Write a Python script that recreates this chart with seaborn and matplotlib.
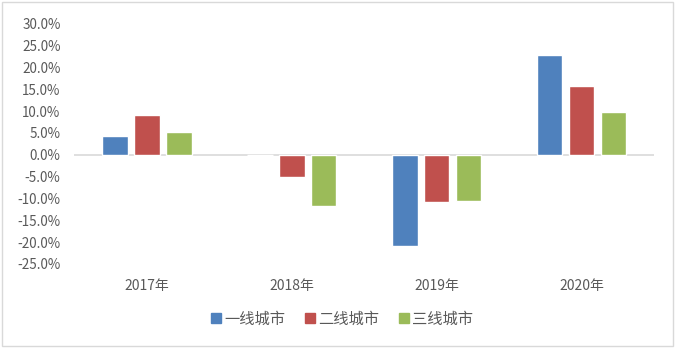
import matplotlib
matplotlib.use("Agg")
import matplotlib.pyplot as plt
import matplotlib.patches as mpatches
import seaborn as sns
import pandas as pd

sns.set_style("white")
plt.rcParams["font.family"] = ["Noto Sans CJK SC", "DejaVu Sans"]

years = ["2017年", "2018年", "2019年", "2020年"]
tiers = ["一线城市", "二线城市", "三线城市"]
tier1 = [4.2, 0.0, -20.8, 22.8]
tier2 = [9.0, -5.0, -10.9, 15.7]
tier3 = [5.1, -11.8, -10.5, 9.9]
colors = ["#4F81BD", "#C0504D", "#9BBB59"]

df = pd.DataFrame({
    "year": years * 3,
    "tier": [tiers[0]] * 4 + [tiers[1]] * 4 + [tiers[2]] * 4,
    "value": tier1 + tier2 + tier3,
})

fig = plt.figure(figsize=(6.77, 3.5), dpi=100)
ax = fig.add_axes([0.110, 0.246, 0.856, 0.686])

sns.barplot(data=df, x="year", y="value", hue="tier", palette=colors,
            saturation=1, errorbar=None, width=0.66, gap=0.2, ax=ax)

ax.set_ylim(-25, 30)
ax.set_yticks(range(-25, 31, 5))
ax.set_yticklabels([f"{v:.1f}%" for v in range(-25, 31, 5)])
ax.axhline(0, color="#D9D9D9", lw=1.2, zorder=0)
for s in ax.spines.values():
    s.set_visible(False)
ax.tick_params(axis="y", length=0, pad=10, labelsize=9.7, labelcolor="#595959")
ax.tick_params(axis="x", length=0, pad=11, labelsize=10, labelcolor="#595959")
ax.set_xlabel("")
ax.set_ylabel("")

ax.legend_.remove()
handles = [mpatches.Patch(color=c, label=t) for c, t in zip(colors, tiers)]
fig.legend(handles=handles, loc="center", bbox_to_anchor=(0.505, 0.089),
           ncol=3, frameon=False, fontsize=11, labelcolor="#595959",
           handlelength=0.65, handleheight=0.65, handletextpad=0.2,
           columnspacing=1.3)

# chart border
fig.patches.append(mpatches.Rectangle((0.003, 0.012), 0.991, 0.983,
                                      transform=fig.transFigure, fill=False,
                                      edgecolor="#D9D9D9", lw=1))

fig.savefig("out.png", dpi=100)
